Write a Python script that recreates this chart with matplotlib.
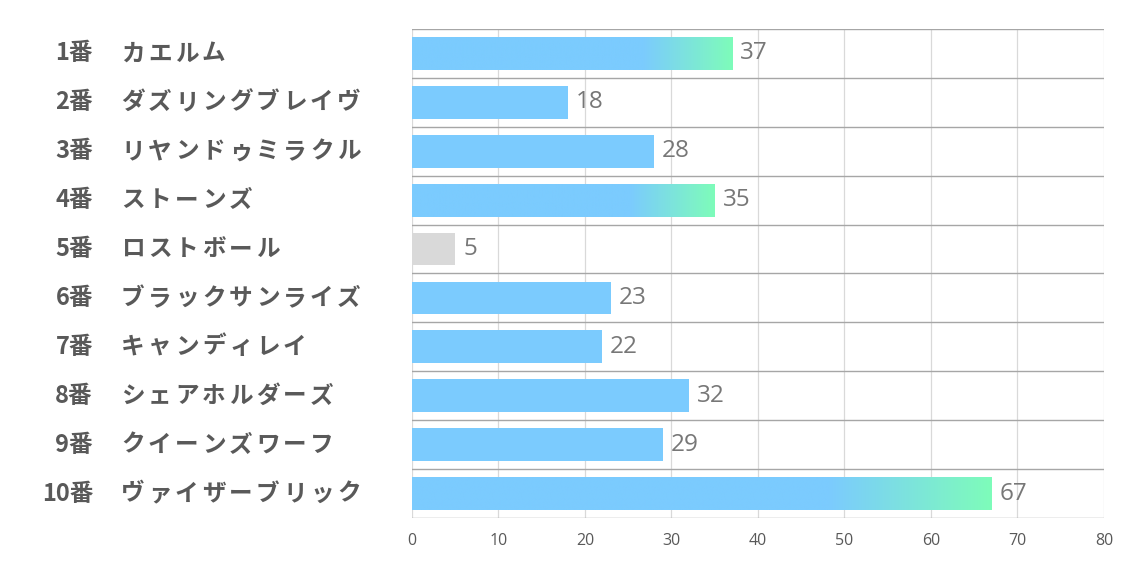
import matplotlib
matplotlib.use("Agg")
import matplotlib.pyplot as plt
from matplotlib.colors import LinearSegmentedColormap
import numpy as np

plt.rcParams['font.family'] = ['Noto Sans CJK JP', 'DejaVu Sans']

numbers = ["1番", "2番", "3番", "4番", "5番", "6番", "7番", "8番", "9番", "10番"]
names = ["カエルム", "ダズリングブレイヴ", "リヤンドゥミラクル", "ストーンズ", "ロストボール",
         "ブラックサンライズ", "キャンディレイ", "シェアホルダーズ", "クイーンズワーフ", "ヴァイザーブリック"]
values = [37, 18, 28, 35, 5, 23, 22, 32, 29, 67]
# bar style: "grad" = blue->green, "blue" plain, "gray" plain gray
styles = ["grad", "blue", "blue", "grad", "gray", "blue", "blue", "blue", "blue", "grad"]
xticks = [0, 10, 20, 30, 40, 50, 60, 70, 80]

BLUE = "#7bcbfe"
GREEN = "#7efcba"
GRAY = "#d9d9d9"
W = 1134

fig = plt.figure(figsize=(11.34, 5.67), dpi=100)
ax = fig.add_axes([0.3633, 0.0864, 0.6102, 0.8625])

n = len(values)
ys = np.arange(n)
h = 0.67
grad_cmap = LinearSegmentedColormap.from_list("bg", [BLUE, GREEN])
grad_start = 0.72

for y, v, s in zip(ys, values, styles):
    if s == "gray":
        ax.barh(y, v, height=h, color=GRAY, zorder=2)
    elif s == "blue":
        ax.barh(y, v, height=h, color=BLUE, zorder=2)
    else:
        bar = ax.barh(y, v, height=h, color="none", zorder=2)[0]
        t = np.linspace(0, 1, 400)
        g = np.clip((t - grad_start) / (1 - grad_start), 0, 1)
        img = ax.imshow(g[np.newaxis, :], cmap=grad_cmap, aspect="auto",
                        extent=[0, v, y + h / 2, y - h / 2],
                        zorder=2, interpolation="bilinear")
        img.set_clip_path(bar)
    ax.text(v + 0.9, y, str(v), va="center", ha="left", fontsize=17.5,
            color="#777777", family=["Open Sans", "DejaVu Sans"], zorder=3)

ax.set_xlim(0, 80)
ax.set_ylim(n - 0.5, -0.5)
ax.set_xticks(xticks)
ax.set_xticklabels([str(x) for x in xticks], fontsize=11.5, color="#595959",
                   family=["Open Sans", "DejaVu Sans"])
ax.set_yticks([])
ax.tick_params(axis="x", length=0, pad=11)

# vertical gridlines
for x in xticks:
    ax.axvline(x, color="#d9d9d9", lw=0.9, zorder=1)
# row separators
for b in np.arange(-0.5, n, 1.0):
    ax.axhline(b, color="#a6a6a6", lw=1.0, zorder=1)

for sp in ax.spines.values():
    sp.set_visible(False)

# category labels (names drawn with wide letter spacing like the original)
adv = 27.0
for y, num, name in zip(ys, numbers, names):
    yf = ax.transData.transform((0, y))[1]
    yfig = fig.transFigure.inverted().transform((0, yf))[1]
    fig.text(93 / W, yfig, num, ha="right", va="center", fontsize=17,
             fontweight="bold", color="#595959")
    for i, ch in enumerate(name):
        fig.text((121 + i * adv) / W, yfig, ch, ha="left", va="center", fontsize=17,
                 fontweight="bold", color="#595959")

fig.savefig("out.png", dpi=100)
